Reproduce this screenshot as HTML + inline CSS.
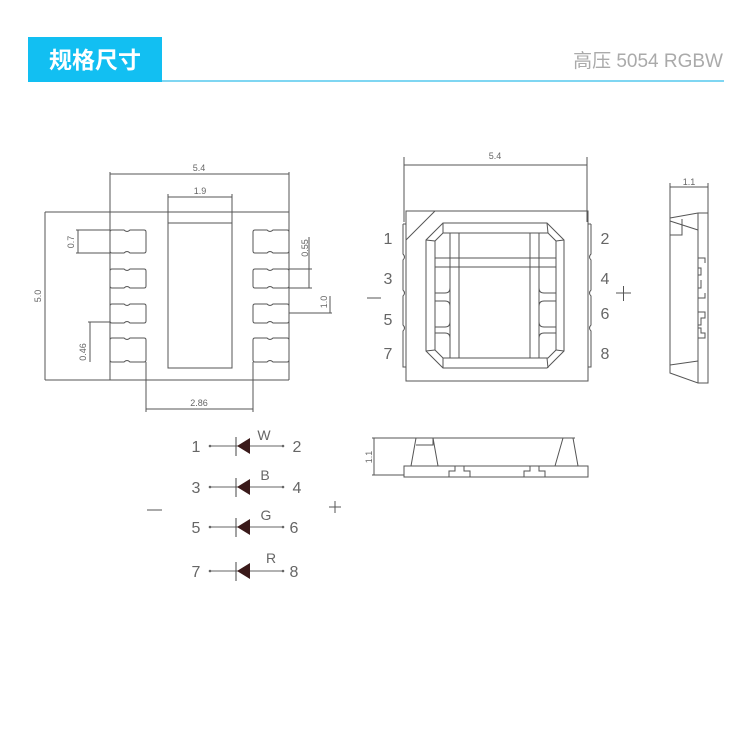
<!DOCTYPE html>
<html><head><meta charset="utf-8"><style>
html,body{margin:0;padding:0;background:#fff;width:750px;height:750px;overflow:hidden}
svg{display:block}
text{font-family:"Liberation Sans","Noto Sans CJK SC",sans-serif;fill:#666}
</style></head><body>
<svg width="750" height="750" viewBox="0 0 750 750" xmlns="http://www.w3.org/2000/svg">
<rect x="28" y="37" width="134" height="45" fill="#12bff2"/>
<text x="95" y="68" font-size="23" font-weight="bold" text-anchor="middle" style="fill:#fff">规格尺寸</text>
<line x1="162" y1="81" x2="724" y2="81" stroke="#7fd6f2" stroke-width="2"/>
<text x="723" y="67" font-size="19" text-anchor="end" style="fill:#aaa">高压 5054 RGBW</text>

<g fill="none" stroke="#555" stroke-width="1">
<line x1="110" y1="172" x2="110" y2="380"/><line x1="289" y1="172" x2="289" y2="380"/>
<line x1="110" y1="174" x2="289" y2="174"/>
<line x1="45" y1="212" x2="289" y2="212"/>
<line x1="45" y1="380" x2="289" y2="380"/>
<line x1="45" y1="212" x2="45" y2="380"/>
<rect x="168" y="223" width="64" height="145"/>
<line x1="168" y1="194" x2="168" y2="223"/><line x1="232" y1="194" x2="232" y2="223"/>
<line x1="168" y1="197" x2="232" y2="197"/>
<g id="pads">
<path d="M112 230 H124 q3 3 6 0 H144 q2 0 2 2 V251 q0 2 -2 2 H130 q-3 -3 -6 0 H112 q-2 0 -2 -2 V232 q0 -2 2 -2Z"/>
<path d="M112 269 H124 q3 3 6 0 H144 q2 0 2 2 V286 q0 2 -2 2 H130 q-3 -3 -6 0 H112 q-2 0 -2 -2 V271 q0 -2 2 -2Z"/>
<path d="M112 304 H124 q3 3 6 0 H144 q2 0 2 2 V321 q0 2 -2 2 H130 q-3 -3 -6 0 H112 q-2 0 -2 -2 V306 q0 -2 2 -2Z"/>
<path d="M112 338 H124 q3 3 6 0 H144 q2 0 2 2 V360 q0 2 -2 2 H130 q-3 -3 -6 0 H112 q-2 0 -2 -2 V340 q0 -2 2 -2Z"/>
</g>
<use href="#pads" x="143"/>
<line x1="146" y1="362" x2="146" y2="412"/><line x1="253" y1="362" x2="253" y2="412"/>
<line x1="146" y1="409" x2="253" y2="409"/>
<line x1="76" y1="230" x2="110" y2="230"/><line x1="76" y1="253" x2="110" y2="253"/><line x1="78" y1="230" x2="78" y2="253"/>
<line x1="88" y1="322" x2="110" y2="322"/><line x1="90" y1="322" x2="90" y2="362"/>
<line x1="309" y1="237" x2="309" y2="288"/><line x1="289" y1="269" x2="312" y2="269"/><line x1="289" y1="288" x2="312" y2="288"/>
<line x1="289" y1="313" x2="332" y2="313"/><line x1="330" y1="296" x2="330" y2="313"/>
</g>
<g font-size="9">
<text x="199" y="171" text-anchor="middle">5.4</text>
<text x="200" y="194" text-anchor="middle">1.9</text>
<text x="199" y="406" text-anchor="middle">2.86</text>
<text transform="translate(41,296) rotate(-90)" text-anchor="middle">5.0</text>
<text transform="translate(74,242) rotate(-90)" text-anchor="middle">0.7</text>
<text transform="translate(86,352) rotate(-90)" text-anchor="middle">0.46</text>
<text transform="translate(308,248) rotate(-90)" text-anchor="middle">0.55</text>
<text transform="translate(327,302) rotate(-90)" text-anchor="middle">1.0</text>
<text x="495" y="159" text-anchor="middle">5.4</text>
<text x="689" y="185" text-anchor="middle">1.1</text>
<text transform="translate(372,457) rotate(-90)" text-anchor="middle">1.1</text>
</g>

<g fill="none" stroke="#555" stroke-width="1">
<line x1="404" y1="157" x2="404" y2="222"/><line x1="587" y1="157" x2="587" y2="222"/>
<line x1="404" y1="165" x2="587" y2="165"/>
<rect x="406" y="211" width="182" height="170"/>
<line x1="406" y1="240" x2="435" y2="211"/>
<path d="M403 224 H406 M403 224 V254 q3 3 0 6 V290 q3 3 0 6 V325 q3 3 0 6 V367 H406"/>
<path d="M591 224 H588 M591 224 V254 q-3 3 0 6 V290 q-3 3 0 6 V325 q-3 3 0 6 V367 H588"/>
<path d="M443 223 H547 L564 240 V351 L547 368 H443 L426 351 V240 Z"/>
<path d="M443 233 H548 L556 241 V350 L548 358 H443 L435 350 V241 Z"/>
<line x1="443" y1="223" x2="443" y2="233"/><line x1="547" y1="223" x2="548" y2="233"/>
<line x1="443" y1="358" x2="443" y2="368"/><line x1="547" y1="358" x2="548" y2="368"/>
<line x1="426" y1="240" x2="435" y2="241"/><line x1="564" y1="240" x2="556" y2="241"/>
<line x1="426" y1="351" x2="435" y2="350"/><line x1="564" y1="351" x2="556" y2="350"/>
<line x1="450" y1="233" x2="450" y2="358"/><line x1="459" y1="233" x2="459" y2="358"/>
<line x1="530" y1="233" x2="530" y2="358"/><line x1="539" y1="233" x2="539" y2="358"/>
<line x1="435" y1="258" x2="556" y2="258"/><line x1="435" y1="267" x2="556" y2="267"/>
<path d="M435 293 H445 q5 0 5 -5 M435 301 H445 q5 0 5 5 V322 q0 5 -5 5 H435 M435 333 H445 q5 0 5 5"/>
<path d="M556 293 H544 q-5 0 -5 -5 M556 301 H544 q-5 0 -5 5 V322 q0 5 5 5 H556 M556 333 H544 q-5 0 -5 5"/>
<line x1="670" y1="183" x2="670" y2="218"/><line x1="708" y1="183" x2="708" y2="213"/>
<line x1="670" y1="187" x2="708" y2="187"/>
<path d="M670 218 L698 213 H708 V383 H698 L670 373 Z"/>
<line x1="698" y1="213" x2="698" y2="383"/>
<line x1="670" y1="221" x2="698" y2="230"/>
<path d="M670 235 H682 V219"/>
<line x1="670" y1="365" x2="698" y2="361"/>
<path d="M698 258 H705 V263 M698 298 H705 V293 M698 268 H701 V275 H698 M698 288 H701 V280 M698 312 H705 V318 H701 V325 H698 M698 328 H701 V333 H705 V338 H698"/>
<line x1="372" y1="438" x2="575" y2="438"/>
<line x1="374" y1="438" x2="374" y2="475"/><line x1="372" y1="475" x2="404" y2="475"/>
<rect x="404" y="466" width="184" height="11"/>
<path d="M416 438 L411 466 M433 438 L438 466 M416 445 H433 V438"/>
<path d="M563 438 L555 466 M573 438 L578 466"/>
<path d="M449 477 V471 H455 V466 M470 477 V471 H464 V466"/>
<path d="M524 477 V471 H530 V466 M545 477 V471 H539 V466"/>
</g>
<g font-size="16">
<text x="388" y="244" text-anchor="middle">1</text>
<text x="388" y="284" text-anchor="middle">3</text>
<text x="388" y="325" text-anchor="middle">5</text>
<text x="388" y="359" text-anchor="middle">7</text>
<text x="605" y="244" text-anchor="middle">2</text>
<text x="605" y="284" text-anchor="middle">4</text>
<text x="605" y="319" text-anchor="middle">6</text>
<text x="605" y="359" text-anchor="middle">8</text>
</g>
<line x1="367" y1="298" x2="381" y2="298" stroke="#555"/>
<path d="M616 293 H631 M623.5 286 V301" stroke="#555"/>

<g id="d1">
<line x1="210" y1="446" x2="283" y2="446" stroke="#666"/>
<line x1="236" y1="437" x2="236" y2="456" stroke="#444"/>
<path d="M237 446 L250 438 V454 Z" fill="#3a1a1a"/>
<circle cx="210" cy="446" r="1.3" fill="#666"/><circle cx="283" cy="446" r="1.3" fill="#666"/>
</g>
<use href="#d1" y="41"/><use href="#d1" y="81"/><use href="#d1" y="125"/>
<g font-size="16">
<text x="196" y="452" text-anchor="middle">1</text><text x="297" y="452" text-anchor="middle">2</text>
<text x="196" y="493" text-anchor="middle">3</text><text x="297" y="493" text-anchor="middle">4</text>
<text x="196" y="533" text-anchor="middle">5</text><text x="294" y="533" text-anchor="middle">6</text>
<text x="196" y="577" text-anchor="middle">7</text><text x="294" y="577" text-anchor="middle">8</text>
</g>
<g font-size="14">
<text x="264" y="440" text-anchor="middle">W</text>
<text x="265" y="480" text-anchor="middle">B</text>
<text x="266" y="520" text-anchor="middle">G</text>
<text x="271" y="563" text-anchor="middle">R</text>
</g>
<line x1="147" y1="510" x2="162" y2="510" stroke="#555"/>
<path d="M329 507 H341 M335 501 V513" stroke="#555"/>
</svg>
</body></html>
